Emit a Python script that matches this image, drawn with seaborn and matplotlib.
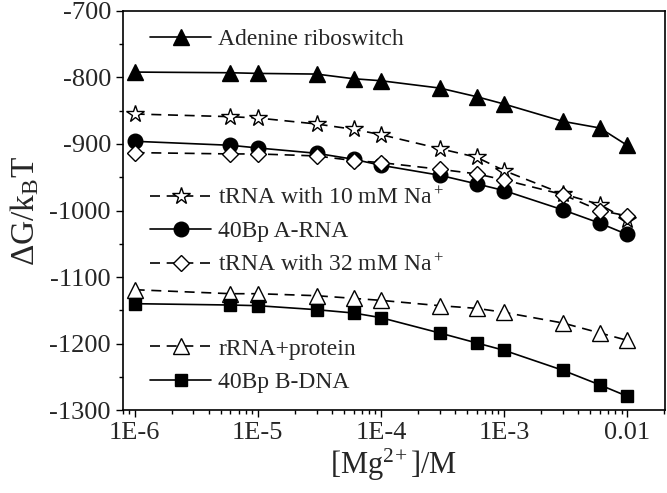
import matplotlib
matplotlib.use("Agg")
import matplotlib.pyplot as plt
import seaborn as sns
import pandas as pd
from matplotlib.ticker import FixedLocator, LogLocator, MultipleLocator, NullFormatter

# Mg2+ concentrations (M)
mg = [1e-6, 6e-6, 1e-5, 3e-5, 6e-5, 1e-4, 3e-4, 6e-4, 1e-3, 3e-3, 6e-3, 1e-2]

# Free energies (kBT)
adenine = [-792, -793, -794, -795, -802, -805, -816, -829, -840, -866, -876, -902]
trna10 = [-855, -859, -861, -870, -878, -886, -907, -920, -940, -975, -991, -1014]
arna = [-896, -902, -906, -914, -923, -932, -947, -960, -970, -999, -1019, -1036]
trna32 = [-913, -915, -915, -918, -925, -928, -938, -945, -954, -976, -1000, -1008]
rrna = [-1119, -1125, -1125, -1128, -1132, -1135, -1143, -1147, -1153, -1169, -1184, -1195]
bdna = [-1140, -1142, -1143, -1149, -1154, -1161, -1184, -1199, -1210, -1240, -1262, -1279]

x_ticks = [1e-6, 1e-5, 1e-4, 1e-3, 1e-2]
x_tick_labels = ["1E-6", "1E-5", "1E-4", "1E-3", "0.01"]
y_ticks = [-700, -800, -900, -1000, -1100, -1200, -1300]

sns.set_style("ticks")
plt.rcParams['font.family'] = ['Liberation Serif', 'DejaVu Serif']
plt.rcParams['mathtext.fontset'] = 'custom'
plt.rcParams['mathtext.rm'] = 'Liberation Serif'
plt.rcParams['mathtext.it'] = 'Liberation Serif'
plt.rcParams['axes.unicode_minus'] = False

fig, ax = plt.subplots(figsize=(6.67, 4.93), dpi=100)
fig.subplots_adjust(left=0.184, right=0.997, top=0.978, bottom=0.168)

dash = (0, (6, 4))
series = [
    ("Adenine riboswitch", adenine, '^', 'black', '-', 11),
    ("tRNA with 10 mM Na$^+$", trna10, '*', 'white', dash, 13),
    ("40Bp A-RNA", arna, 'o', 'black', '-', 10.5),
    ("tRNA with 32 mM Na$^+$", trna32, 'D', 'white', dash, 8.5),
    ("rRNA+protein", rrna, '^', 'white', dash, 11),
    ("40Bp B-DNA", bdna, 's', 'black', '-', 8.5),
]

handles = {}
for name, vals, mk, fc, ls, ms in series:
    df = pd.DataFrame({'mg': mg, 'dg': vals})
    sns.lineplot(data=df, x='mg', y='dg', ax=ax, color='black', lw=1.2,
                 linestyle=ls, marker=mk, markersize=ms, markerfacecolor=fc,
                 markeredgecolor='black', markeredgewidth=1.0, sort=False,
                 label=name, legend=False)
    handles[name] = ax.lines[-1]

ax.set_xscale('log')
ax.set_xlim(8e-7, 0.0203)
ax.set_ylim(-1300, -700)
ax.xaxis.set_major_locator(FixedLocator(x_ticks))
ax.set_xticklabels(x_tick_labels)
ax.xaxis.set_minor_locator(LogLocator(base=10, subs=range(2, 10)))
ax.xaxis.set_minor_formatter(NullFormatter())
ax.set_yticks(y_ticks)
ax.yaxis.set_minor_locator(MultipleLocator(50))

ax.tick_params(which='major', direction='out', length=5, width=1.0, labelsize=19, color='black')
ax.tick_params(which='minor', direction='out', length=3, width=1.0, color='black')
for sp in ax.spines.values():
    sp.set_linewidth(1.2)
    sp.set_color('black')

ax.set_xlabel("[Mg$^{2\\!+}$]/M", fontsize=22, labelpad=2)
ax.set_ylabel("ΔG/k$_\\mathrm{B}$T", fontsize=24, labelpad=6)

names = [s[0] for s in series]
leg_kw = dict(frameon=False, fontsize=17, handlelength=2.6, handletextpad=0.3,
              borderpad=0, borderaxespad=0, loc='center left')
leg1 = ax.legend([handles[names[0]]], [names[0]], bbox_to_anchor=(0.05, 0.928), **leg_kw)
ax.add_artist(leg1)
grp2 = [names[1], names[2], names[3]]
leg2 = ax.legend([handles[n] for n in grp2], grp2, bbox_to_anchor=(0.05, 0.447),
                 labelspacing=0.5, **leg_kw)
ax.add_artist(leg2)
grp3 = [names[4], names[5]]
ax.legend([handles[n] for n in grp3], grp3, bbox_to_anchor=(0.05, 0.112),
          labelspacing=0.5, **leg_kw)

fig.savefig("out.png", dpi=100)
